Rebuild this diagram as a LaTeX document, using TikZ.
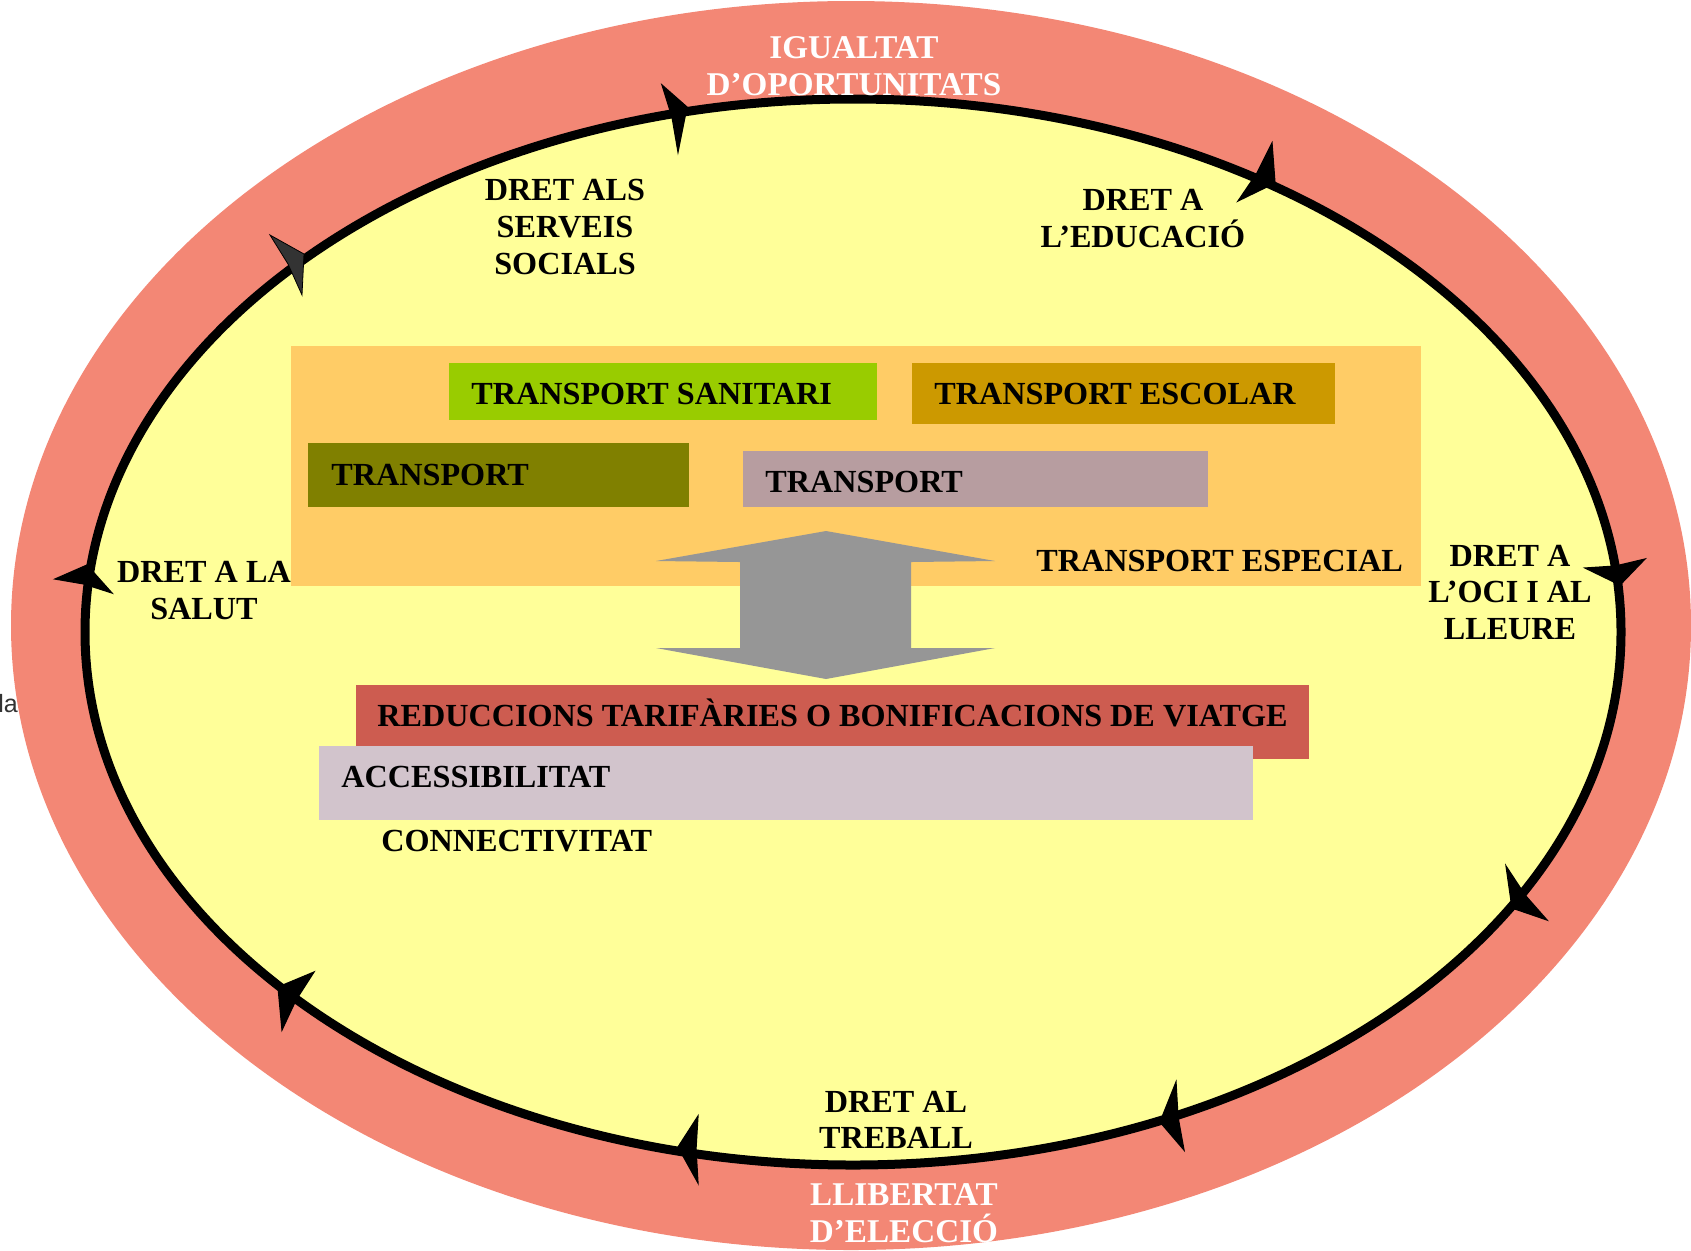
\documentclass[tikz,border=0pt]{standalone}
\usepackage{fontspec}
\setmainfont{Liberation Serif}
\newfontfamily\arialfont{Liberation Sans}
\definecolor{ringcol}{RGB}{243,135,117}
\definecolor{fieldcol}{RGB}{255,255,153}
\definecolor{panelcol}{RGB}{255,204,102}
\definecolor{sanitcol}{RGB}{153,204,0}
\definecolor{escolcol}{RGB}{204,153,0}
\definecolor{olivecol}{RGB}{128,128,0}
\definecolor{mauvecol}{RGB}{183,157,160}
\definecolor{redcol}{RGB}{205,92,80}
\definecolor{acccol}{RGB}{210,196,204}
\definecolor{shaftcol}{RGB}{150,150,150}
\definecolor{darkhead}{RGB}{51,51,51}
\begin{document}
\begin{tikzpicture}[x=0.5pt,y=-0.5pt,
  lbl/.style={font=\fontsize{16.1}{18.3}\selectfont\bfseries, align=center, inner sep=0pt},
  boxlbl/.style={font=\fontsize{16.1}{18.3}\selectfont\bfseries, inner sep=0pt, anchor=base west},
  whitelbl/.style={lbl, font=\fontsize{16.6}{18.3}\selectfont\bfseries, text=white},
  headtip/.style={fill=black, draw=black, line width=0.6pt, line join=miter}]
\useasboundingbox (0,0) rectangle (1691,1250);
\clip (0,0) rectangle (1691,1250);

% outer ring and inner field
\fill[ringcol] (851,625.5) ellipse [x radius=420pt, y radius=312.25pt];
\fill[fieldcol] (853,632) ellipse [x radius=384pt, y radius=266.5pt];

% stray text at the page edge
\node[font=\arialfont\fontsize{12.5}{14}\selectfont, text=black!80, anchor=base west, inner sep=0pt] (edge) at (-2,712) {la};

% transport panel
\fill[panelcol] (291,346) rectangle (1421,586);
\fill[sanitcol] (449,363) rectangle (877,420);
\fill[escolcol] (912,363) rectangle (1335,424);
\fill[olivecol] (308,443) rectangle (689,507);
\fill[mauvecol] (743,451) rectangle (1208,507);

\node[boxlbl] (tsan) at (471,404.5) {TRANSPORT SANITARI};
\node[boxlbl] (tesc) at (934,404.5) {TRANSPORT ESCOLAR};
\node[boxlbl] (tra) at (331,485) {TRANSPORT};
\node[boxlbl] (trb) at (765,492.5) {TRANSPORT};
\node[boxlbl] (tesp) at (1036,571.5) {TRANSPORT ESPECIAL};

% two-way arrow between panel and measures
\fill[shaftcol] (826,531) -- (995,561) -- (911,562) -- (911,648) -- (995,648)
  -- (826,679) -- (656,648) -- (740,648) -- (740,562) -- (656,561) -- cycle;

% measures
\fill[redcol] (356,685) rectangle (1309,759);
\node[boxlbl] (red) at (377,726.5) {REDUCCIONS TARIFÀRIES O BONIFICACIONS DE VIATGE};
\fill[acccol] (319,746) rectangle (1253,820);
\node[boxlbl] (acc) at (341,787) {ACCESSIBILITAT};
\node[boxlbl] (con) at (381,851.5) {CONNECTIVITAT};

% cycle of rights
\draw[line width=4.5pt] (853,632) ellipse [x radius=384pt, y radius=266.5pt];

\fill[darkhead, draw=black, line width=0.4pt] (304,254) -- (270,235) -- (288,264) -- (302,295) -- cycle;
\filldraw[headtip] (687,107) -- (662,85) -- (672,117) -- (678,152) -- cycle;
\filldraw[headtip] (1275,183) -- (1272,143) -- (1257,173) -- (1238,201) -- cycle;
\filldraw[headtip] (1620,585) -- (1585,568) -- (1615.5,566) -- (1645,559) -- cycle;
\filldraw[headtip] (1512,908) -- (1506,866) -- (1525,895) -- (1547,920) -- cycle;
\filldraw[headtip] (1160,1122) -- (1176,1082) -- (1178,1117) -- (1184,1150) -- cycle;
\filldraw[headtip] (678,1147) -- (698,1116) -- (696,1149) -- (698,1183) -- cycle;
\filldraw[headtip] (278,987) -- (314,972) -- (296,1000) -- (282,1030) -- cycle;
\filldraw[headtip] (87,565) -- (55,579) -- (84,584) -- (112,593) -- cycle;

% labels
\node[whitelbl] (igu) at (854,66) {IGUALTAT\\D’OPORTUNITATS};
\node[lbl] (soc) at (565,227) {DRET ALS\\SERVEIS\\SOCIALS};
\node[lbl] (edu) at (1143,218.5) {DRET A\\L’EDUCACIÓ};
\node[lbl] (sal) at (204,590.5) {DRET A LA\\SALUT};
\node[lbl] (oci) at (1510,592.5) {DRET A\\L’OCI I AL\\LLEURE};
\node[lbl] (tre) at (896,1120) {DRET AL\\TREBALL};
\node[whitelbl] (lli) at (904,1213) {LLIBERTAT\\D’ELECCIÓ};
\end{tikzpicture}
\end{document}
